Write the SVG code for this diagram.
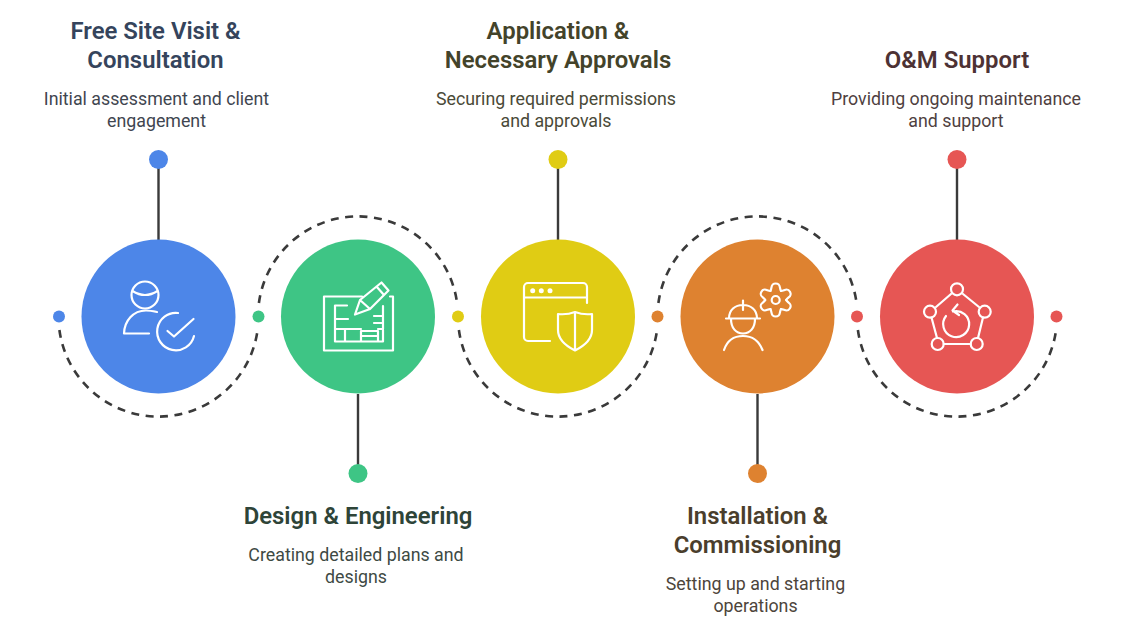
<svg xmlns="http://www.w3.org/2000/svg" width="1127" height="634" viewBox="0 0 1127 634">
<style>
text{font-family:Roboto,"Liberation Sans",sans-serif;text-anchor:middle}
.t{font-size:23.900px;font-weight:600}
.b{font-size:17.800px}
.ic{fill:none;stroke:#fff;stroke-width:2.2;stroke-linecap:round;stroke-linejoin:round}
.stem{stroke:#3a3a3a;stroke-width:2.4;fill:none}
.dash{stroke:#3a3a3a;stroke-width:2.6;fill:none;stroke-dasharray:8 6.5}
</style>
<defs><path id="lobe" d="M-5.250 -9.100C-3.500 -11.500 -5.500 -16.500 0 -16.500C5.500 -16.500 3.500 -11.500 5.250 -9.100"/></defs>
<rect width="1127" height="634" fill="#fff"/>
<g id="connectors">
<path class="dash" d="M59.400 330A100 100 0 0 0 257.600 330"/>
<path class="dash" d="M258.900 303A100 100 0 0 1 457.100 303"/>
<path class="dash" d="M458.900 330A100 100 0 0 0 657.100 330"/>
<path class="dash" d="M658.400 303A100 100 0 0 1 856.600 303"/>
<path class="dash" d="M857.900 330A100 100 0 0 0 1056.100 330"/>
<path class="stem" d="M158.500 160V240M358 394V473M558 160V240M757.500 394V473M957 160V240"/>
</g>
<g id="n1">
<circle cx="59" cy="316.500" r="6" fill="#4d86e8"/><circle cx="158.500" cy="159.500" r="9.500" fill="#4d86e8"/><circle cx="158.500" cy="316.500" r="77" fill="#4d86e8"/>
<g class="ic"><circle cx="145" cy="295" r="13.500"/><path d="M132.500 291Q145 299 157.500 291M157 312Q150 310.500 146 310.500C133 310.500 124.500 321 124 333.500H149"/><path d="M178 313A18.700 18.700 0 1 0 194 336"/><path d="M167.500 331L174 336.500L193.500 319"/></g>
<text class="t" x="155.500" y="39.300" fill="#35445c">Free Site Visit &amp;</text><text class="t" x="155.500" y="68" fill="#35445c">Consultation</text>
<text class="b" x="156.500" y="105" fill="#3f4650">Initial assessment and client</text><text class="b" x="156.500" y="127" fill="#3f4650">engagement</text>
</g>
<g id="n2">
<circle cx="258.500" cy="316.500" r="6" fill="#3ec585"/><circle cx="358" cy="473.500" r="9.500" fill="#3ec585"/><circle cx="358" cy="316.500" r="77" fill="#3ec585"/>
<g class="ic"><path d="M362 296.500H324V350.500H393V296.500H390"/><path d="M355 314.500L360 300L381.500 282.500L388.500 290.500L370 309Z M360 300L370 309M376.500 286.500L384 295"/><path d="M335 341.500V305.500H347M335 319H348M335 329H345V341M335 341.500H383V330M345 329H361M361 341V331H378V341M361 336H378M378 329H383V306M374 316H383M374 323H383"/></g>
<text class="t" x="358" y="524" fill="#2e4438">Design &amp; Engineering</text>
<text class="b" x="356" y="561" fill="#3e4a44">Creating detailed plans and</text><text class="b" x="356" y="583" fill="#3e4a44">designs</text>
</g>
<g id="n3">
<circle cx="458" cy="316.500" r="6" fill="#e0cc14"/><circle cx="558" cy="159.500" r="9.500" fill="#e0cc14"/><circle cx="558" cy="316.500" r="77" fill="#e0cc14"/>
<g class="ic"><path d="M550 341H528A4 4 0 0 1 524 337V287A4 4 0 0 1 528 283H583A4 4 0 0 1 587 287V303M524 297.500H587"/><path d="M575 312Q583 315 592 314V330C592 340 584 346 575 350.500C566 346 558 340 558 330V314Q567 315 575 312ZM575 312V350"/></g>
<g fill="#fff"><circle cx="532.700" cy="290.700" r="2.500"/><circle cx="541.300" cy="290.700" r="2.500"/><circle cx="550" cy="290.700" r="2.500"/></g>
<text class="t" x="558" y="39.300" fill="#43432a">Application &amp;</text><text class="t" x="558" y="68" fill="#43432a">Necessary Approvals</text>
<text class="b" x="556" y="105" fill="#4a4a38">Securing required permissions</text><text class="b" x="556" y="127" fill="#4a4a38">and approvals</text>
</g>
<g id="n4">
<circle cx="657.500" cy="316.500" r="6" fill="#de8230"/><circle cx="757.500" cy="473.500" r="9.500" fill="#de8230"/><circle cx="757.500" cy="316.500" r="77" fill="#de8230"/>
<g class="ic"><path d="M726 318.500H760M729 318.500C729 310 735 305 743 305C751 305 757 310 757 318.500M743 300.500V310M731 319C731 328 736 333.500 743 333.500C750 333.500 755 328 755 319M724 350C727 341 734 336 743 336C752 336 759 341 762.500 350"/>
<g transform="translate(775.700 300)"><use href="#lobe"/><use href="#lobe" transform="rotate(60)"/><use href="#lobe" transform="rotate(120)"/><use href="#lobe" transform="rotate(180)"/><use href="#lobe" transform="rotate(240)"/><use href="#lobe" transform="rotate(300)"/></g>
<circle cx="775.700" cy="300" r="4"/></g>
<text class="t" x="757.500" y="524" fill="#4a3e2c">Installation &amp;</text><text class="t" x="757.500" y="553" fill="#4a3e2c">Commissioning</text>
<text class="b" x="755.500" y="590" fill="#4d453b">Setting up and starting</text><text class="b" x="755.500" y="612" fill="#4d453b">operations</text>
</g>
<g id="n5">
<circle cx="857" cy="316.500" r="6" fill="#e65654"/><circle cx="1056.500" cy="316.500" r="6" fill="#e65654"/><circle cx="957" cy="159.500" r="9.500" fill="#e65654"/><circle cx="957" cy="316.500" r="77" fill="#e65654"/>
<g class="ic"><circle cx="957" cy="289.300" r="6"/><circle cx="984.700" cy="311.700" r="6"/><circle cx="976.700" cy="344" r="6"/><circle cx="937.700" cy="344" r="6"/><circle cx="930" cy="311.700" r="6"/><path d="M951 294L936 307M963 294L979 307M983 317.500L978 338M970.700 344H943.700M937 338L931.500 317.500"/><path d="M953 311.500A13 13 0 1 1 946 316M957.500 304.500L952.500 310.500L959 315"/></g>
<text class="t" x="957" y="68" fill="#4d3234">O&amp;M Support</text>
<text class="b" x="956" y="105" fill="#4f3f3f">Providing ongoing maintenance</text><text class="b" x="956" y="127" fill="#4f3f3f">and support</text>
</g>
</svg>
